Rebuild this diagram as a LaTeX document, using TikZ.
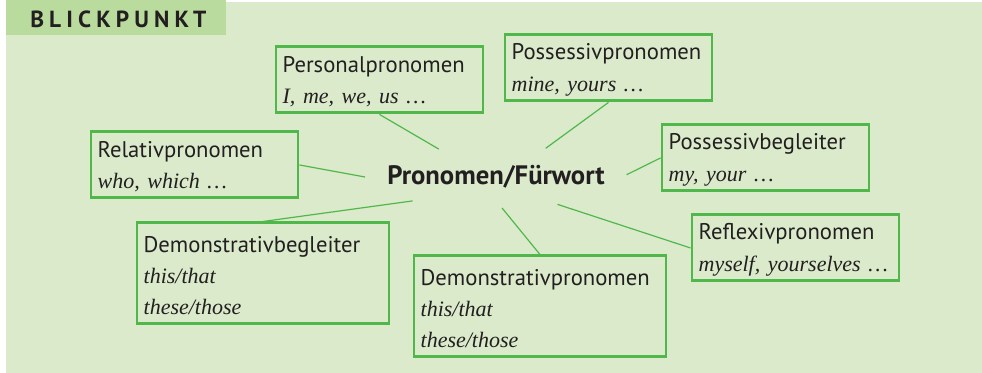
\documentclass[tikz,border=0pt]{standalone}
\usepackage{fontspec}
\setmainfont{PT Sans}
\newfontfamily\exfont{Liberation Serif}
\newfontfamily\tabfont{PT Sans}[LetterSpace=22]
\usetikzlibrary{shapes.geometric}
\definecolor{bggreen}{RGB}{218,234,203}
\definecolor{tabgreen}{RGB}{186,219,158}
\definecolor{boxgreen}{RGB}{80,184,75}
\definecolor{inkgray}{RGB}{35,31,32}
\newcommand{\ex}[1]{{\exfont\itshape\fontsize{16.5}{23.5}\selectfont #1}}

\begin{document}
\begin{tikzpicture}[x=0.75pt, y=-0.75pt,
        pbox/.style={draw=boxgreen, line width=2.2pt, anchor=north west, align=left, inner xsep=5pt, inner ysep=0pt,
                     text width=145.25pt, minimum height=49.5pt, text=inkgray, font=\fontsize{17}{23.5}\selectfont,
                     execute at begin node=\rule{0pt}{15pt}},
        widebox/.style={pbox, text width=179pt, minimum height=75.75pt},
        link/.style={draw=boxgreen, line width=0.9pt}
    ]

    % Background and tab
    \useasboundingbox (0,0) rectangle (982,373);
    \fill[bggreen] (6,2) rectangle (982,373);
    \fill[tabgreen] (6,0) rectangle (226,35);
    \node[anchor=base west, inner sep=0pt, text=inkgray, font=\tabfont\bfseries\fontsize{17.5}{20}\selectfont] (title) at (30,28) {BLICKPUNKT};

    % Center word
    \node[text=inkgray, font=\bfseries\fontsize{20}{22}\selectfont] (pron) at (496,177) {Pronomen/Fürwort};
    \node[ellipse, minimum width=196.5pt, minimum height=46.5pt, inner sep=0pt, outer sep=0pt] (hub) at (pron.center) {};

    % Boxes
    \node[pbox] (pers) at (274.5,45.5) {Personalpronomen\\\ex{I, me, we, us …}};
    \node[pbox] (posspro) at (503.5,33.5) {Possessivpronomen\\\ex{mine, yours …}};
    \node[pbox] (possbeg) at (660.5,123.5) {Possessivbegleiter\\\ex{my, your …}};
    \node[pbox] (refl) at (690.5,213.5) {Reflexivpronomen\\\ex{myself, yourselves …}};
    \node[pbox] (rel) at (89.5,130.5) {Relativpronomen\\\ex{who, which …}};
    \node[widebox] (dembeg) at (135.5,221.5) {Demonstrativbegleiter\\\ex{this/that}\\\ex{these/those}};
    \node[widebox] (dempro) at (412.5,254.5) {Demonstrativpronomen\\\ex{this/that}\\\ex{these/those}};

    % Connectors
    \draw[link] (pers.south) -- (hub.154.5);
    \draw[link] (posspro.south) -- (hub.30);
    \draw[link] (possbeg.west) -- (hub.1.3);
    \draw[link] (refl.west) -- (hub.-24);
    \draw[link] (dempro.north) -- (hub.-79);
    \draw[link] (dembeg.north) -- (hub.196);
    \draw[link] (rel.east) -- (hub.180);

\end{tikzpicture}
\end{document}
